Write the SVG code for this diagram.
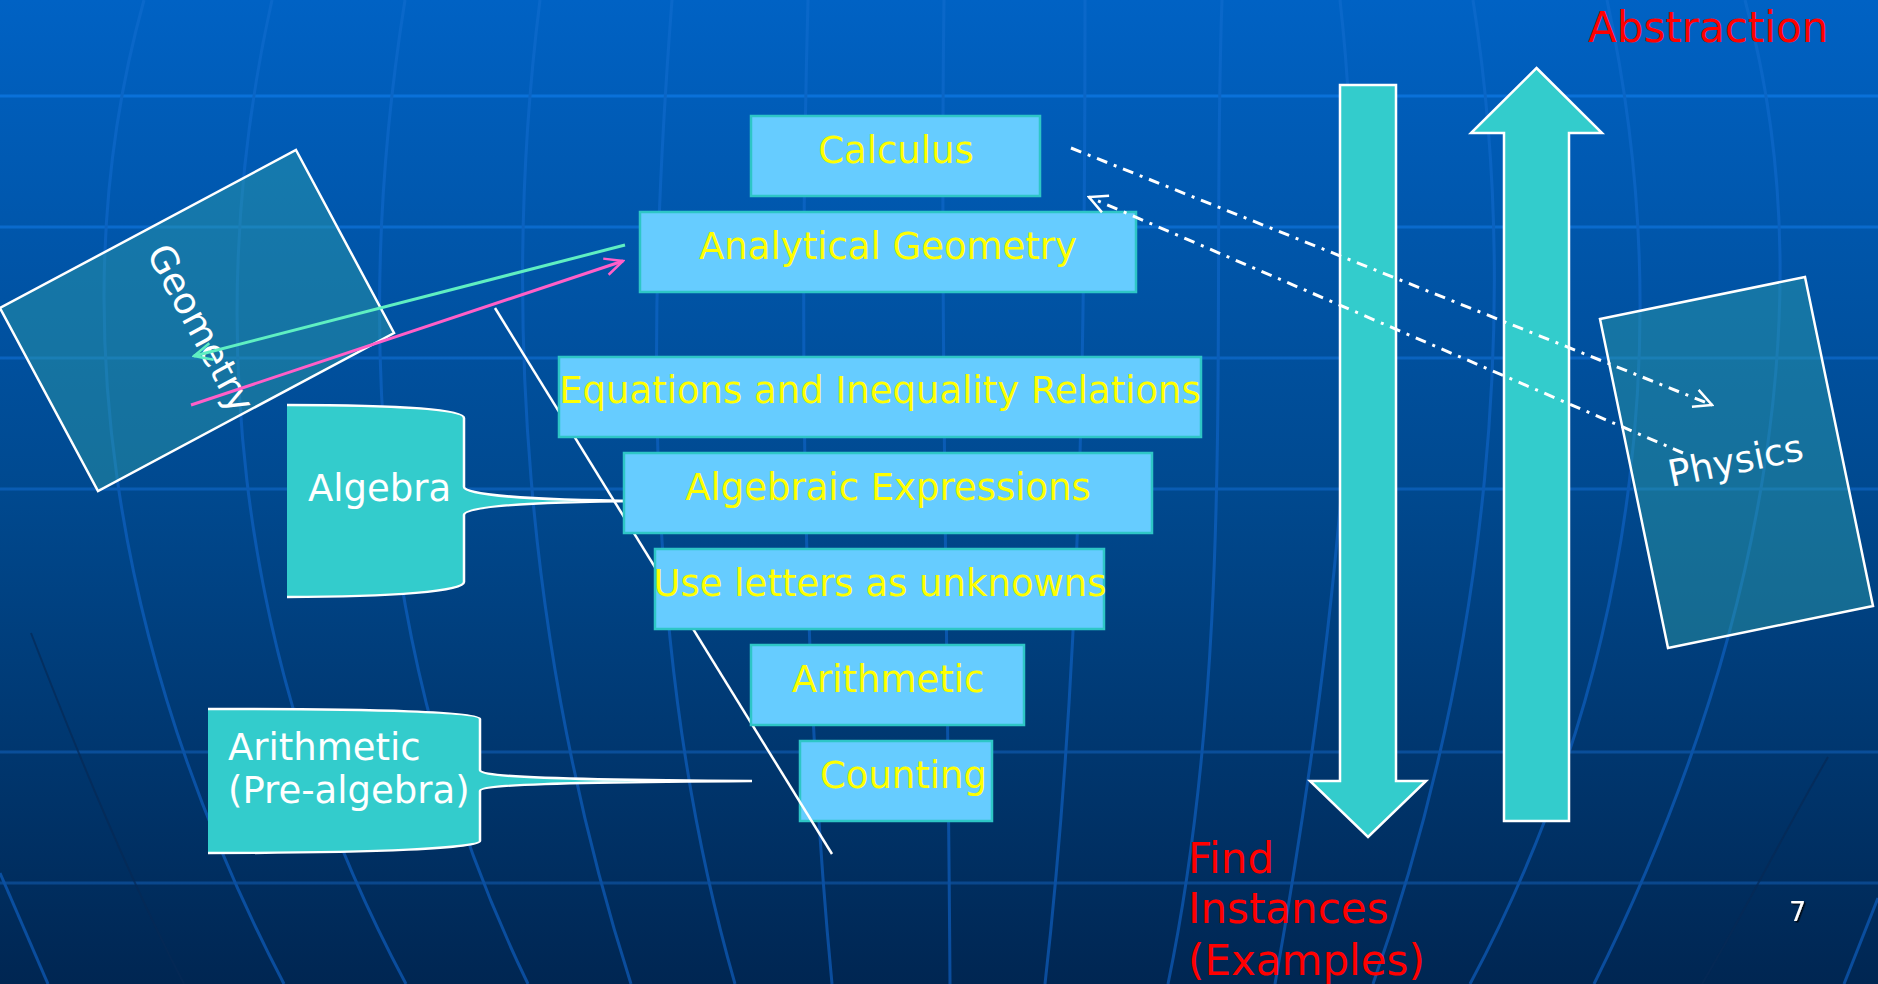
<svg xmlns="http://www.w3.org/2000/svg" width="1878" height="984" viewBox="0 0 1878 984">
<defs>
<linearGradient id="bg" x1="0" y1="0" x2="0" y2="1">
<stop offset="0" stop-color="#0062C4"/>
<stop offset="0.5" stop-color="#00498F"/>
<stop offset="1" stop-color="#002652"/>
</linearGradient>
<linearGradient id="hline" gradientUnits="userSpaceOnUse" x1="0" y1="0" x2="0" y2="984">
<stop offset="0" stop-color="#0A76E2"/>
<stop offset="1" stop-color="#0A4283"/>
</linearGradient>
<linearGradient id="mline" gradientUnits="userSpaceOnUse" x1="0" y1="0" x2="0" y2="984">
<stop offset="0" stop-color="#0A68CA"/>
<stop offset="1" stop-color="#0A4C9C"/>
</linearGradient>
<marker id="arrW" markerUnits="userSpaceOnUse" viewBox="-22 -12 24 24" refX="0" refY="0" markerWidth="24" markerHeight="24" orient="auto">
<path d="M-18,-9 L0,0 L-18,9" fill="none" stroke="#FFFFFF" stroke-width="2.5"/>
</marker>
<marker id="arrG" markerUnits="userSpaceOnUse" viewBox="-22 -12 24 24" refX="0" refY="0" markerWidth="24" markerHeight="24" orient="auto">
<path d="M-18,-8.5 L0,0 L-18,8.5" fill="none" stroke="#5FEFC2" stroke-width="2.5"/>
</marker>
<marker id="arrP" markerUnits="userSpaceOnUse" viewBox="-22 -12 24 24" refX="0" refY="0" markerWidth="24" markerHeight="24" orient="auto">
<path d="M-18,-8.5 L0,0 L-18,8.5" fill="none" stroke="#FF5FC8" stroke-width="2.5"/>
</marker>
<filter id="shadow" x="-50%" y="-50%" width="200%" height="200%">
<feDropShadow dx="1.5" dy="1.5" stdDeviation="0.5" flood-color="#000000" flood-opacity="0.8"/>
</filter>
<style>
.hl{stroke:url(#hline);stroke-width:3;fill:none}
.ml{stroke:url(#mline);stroke-width:3;fill:none}
.dl{stroke:#062A55;stroke-width:2;fill:none;opacity:0.7}
.box{fill:#66CCFF;stroke:#2EC6C6;stroke-width:2.5}
.bt{font-family:"DejaVu Sans","Liberation Sans",sans-serif;font-size:37px;fill:#FFFF00;text-anchor:middle}
.wt{font-family:"DejaVu Sans","Liberation Sans",sans-serif;font-size:37px;fill:#FFFFFF}
.rt{font-family:"DejaVu Sans","Liberation Sans",sans-serif;font-size:42px;fill:#FF0000}
.tilt{fill:#2FA0A8;fill-opacity:0.45;stroke:#FFFFFF;stroke-width:2.5}
.brf{fill:#33CCCC;stroke:none}
.brs{fill:none;stroke:#FFFFFF;stroke-width:2.5}
.bigarrow{fill:#33CCCC;stroke:#FFFFFF;stroke-width:2.5}
.dash{fill:none;stroke:#FFFFFF;stroke-width:3;stroke-dasharray:11 7 3 7}
</style>
</defs>

<g id="background">
<rect x="0" y="0" width="1878" height="984" fill="url(#bg)"/>
<path class="hl" d="M0,96 H1878 M0,227 H1878 M0,358 H1878 M0,489 H1878 M0,752 H1878 M0,883 H1878"/>
<path class="ml" d="M144,0 C60,300 110,650 284,984"/>
<path class="ml" d="M272,0 C205,300 227,650 406,984"/>
<path class="ml" d="M405,0 C357,300 366,650 528,984"/>
<path class="ml" d="M540,0 C502,300 524,650 631,984"/>
<path class="ml" d="M672,0 C649,300 639,650 735,984"/>
<path class="ml" d="M808,0 C800,300 800,650 832,984"/>
<path class="ml" d="M944,0 C940,300 948,650 950,984"/>
<path class="ml" d="M1085,0 C1085,300 1083,650 1045,984"/>
<path class="ml" d="M1222,0 C1211,300 1237,650 1168,984"/>
<path class="ml" d="M1340,0 C1374,300 1334,650 1275,984"/>
<path class="ml" d="M1473,0 C1520,300 1490,650 1373,984"/>
<path class="ml" d="M1607,0 C1672,300 1648,650 1470,984"/>
<path class="ml" d="M1745,0 C1827,300 1760,650 1594,984"/>
<path class="ml" d="M0,873 L48,984"/>
<path class="ml" d="M1878,898 L1844,984"/>
<path class="dl" d="M31,633 C80,760 130,880 184,984"/>
<path class="dl" d="M1828,757 C1780,840 1740,920 1702,984"/>
</g>

<g id="geometry">
<polygon class="tilt" points="296,150 394,333 98,491 0,308"/>
<text class="wt" x="0" y="0" transform="translate(146,253) rotate(61.8)">Geometry</text>
</g>

<g id="physics">
<polygon class="tilt" points="1600,319 1805,277 1873,606 1668,648"/>
<text class="wt" x="0" y="0" transform="translate(1671,487) rotate(-11.6)">Physics</text>
</g>

<g id="down-arrow">
<polygon class="bigarrow" points="1340,85 1396,85 1396,781 1426,781 1368,837 1310,781 1340,781"/>
</g>
<g id="up-arrow">
<polygon class="bigarrow" points="1536.5,68 1602,133 1569,133 1569,821 1504,821 1504,133 1471,133"/>
</g>

<g id="algebra">
<path class="brf" d="M287,405 C395,405 464,409 464,418 L464,487 C464,494 520,500 641,501 C520,502 464,507 464,515 L464,582 C464,591 395,597 287,597 Z"/>
<path class="brs" d="M287,405 C395,405 464,409 464,418 L464,487 C464,494 520,500 641,501 C520,502 464,507 464,515 L464,582 C464,591 395,597 287,597"/>
<text class="wt" x="308" y="501">Algebra</text>
</g>

<g id="prealgebra">
<path class="brf" d="M208,709 C380,709 480,712 480,719 L480,770 C480,777 560,780 752,781 C560,782 480,785 480,791 L480,841 C480,848 380,853 208,853 Z"/>
<path class="brs" d="M208,709 C380,709 480,712 480,719 L480,770 C480,777 560,780 752,781 C560,782 480,785 480,791 L480,841 C480,848 380,853 208,853"/>
<text class="wt" x="228" y="760">Arithmetic</text>
<text class="wt" x="228" y="803">(Pre-algebra)</text>
</g>

<g id="calculus">
<rect class="box" x="751" y="116" width="289" height="80"/>
<text class="bt" x="896" y="163">Calculus</text>
</g>
<g id="analytical-geometry">
<rect class="box" x="640" y="212" width="496" height="80"/>
<text class="bt" x="888" y="259">Analytical Geometry</text>
</g>
<g id="counting">
<rect class="box" x="800" y="741" width="192" height="80"/>
<text class="bt" x="903.5" y="788">Counting</text>
</g>

<g id="connectors">
<line x1="495" y1="308" x2="832" y2="854" stroke="#FFFFFF" stroke-width="2.5"/>
<line x1="625" y1="245" x2="194" y2="356" stroke="#5FEFC2" stroke-width="3" marker-end="url(#arrG)"/>
<line x1="191" y1="405" x2="623" y2="261" stroke="#FF5FC8" stroke-width="3" marker-end="url(#arrP)"/>
<line class="dash" x1="1071" y1="148" x2="1712" y2="405" marker-end="url(#arrW)"/>
<line class="dash" x1="1683" y1="453" x2="1089" y2="197" marker-end="url(#arrW)"/>
</g>

<g id="equations">
<rect class="box" x="559" y="357" width="642" height="80"/>
<text class="bt" x="880" y="403">Equations and Inequality Relations</text>
</g>
<g id="algebraic-expressions">
<rect class="box" x="624" y="453" width="528" height="80"/>
<text class="bt" x="888" y="500">Algebraic Expressions</text>
</g>
<g id="use-letters">
<rect class="box" x="655" y="549" width="449" height="80"/>
<text class="bt" x="880" y="596">Use letters as unknowns</text>
</g>
<g id="arithmetic">
<rect class="box" x="751" y="645" width="273" height="80"/>
<text class="bt" x="888" y="692">Arithmetic</text>
</g>

<g id="labels">
<text class="rt" x="1588" y="42">Abstraction</text>
<text class="rt" x="1188" y="873">Find</text>
<text class="rt" x="1188" y="923">Instances</text>
<text class="rt" x="1188" y="975">(Examples)</text>
<text x="1789" y="921" font-family="DejaVu Sans, Liberation Sans, sans-serif" font-size="27" fill="#FFFFFF" filter="url(#shadow)">7</text>
</g>
</svg>
